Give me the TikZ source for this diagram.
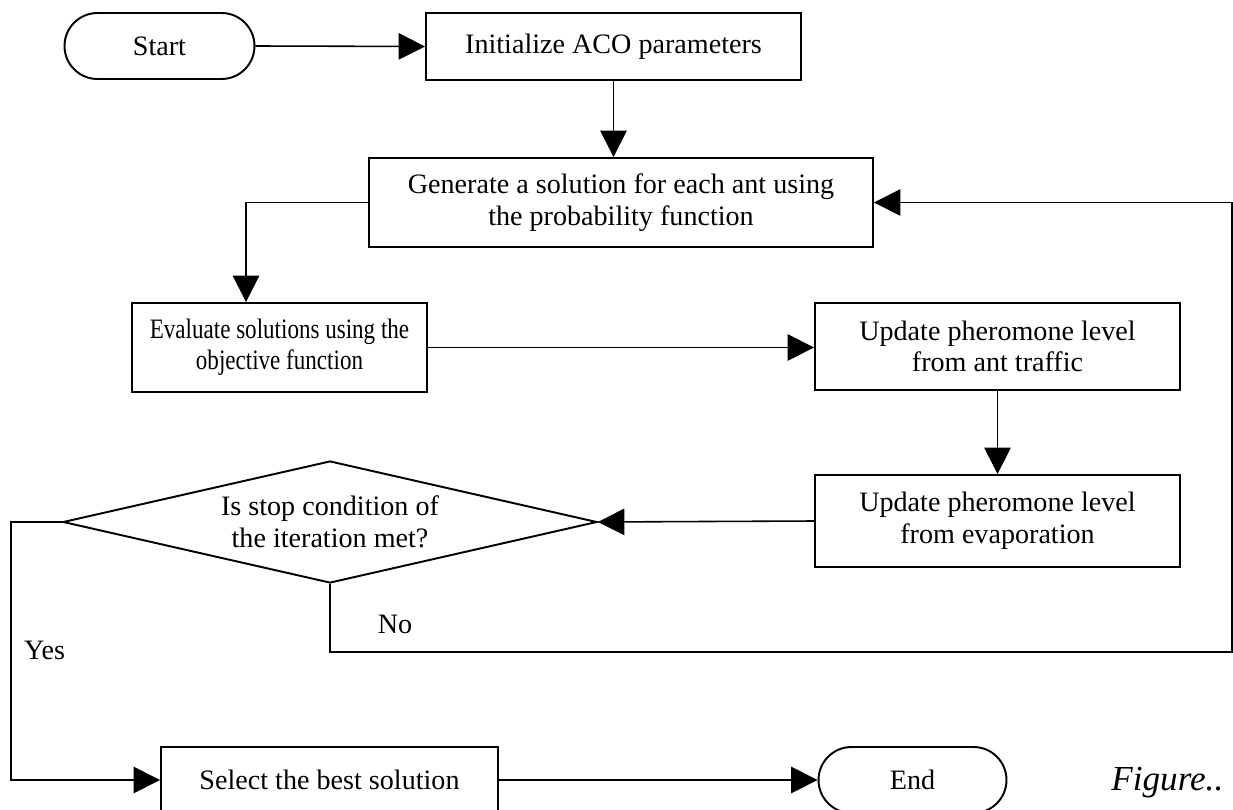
\documentclass[tikz,border=0pt]{standalone}
\usepackage{fontspec}
\setmainfont{Liberation Serif}
\usetikzlibrary{arrows.meta,shapes.geometric,shapes.misc}

\begin{document}
\begin{tikzpicture}[
    font=\fontsize{16}{18}\selectfont,
    box/.style={draw, line width=1.1pt, rectangle, align=center, inner sep=2pt},
    pill/.style={draw, line width=1.1pt, rounded rectangle, align=center, inner sep=2pt},
    flow/.style={line width=0.9pt, -{Triangle[length=15pt,width=15pt]}}
  ]
\useasboundingbox (0,0) rectangle (24.66,-16.2);

% Start and end
\node[pill, minimum width=3.94cm, minimum height=1.32cm] (start) at (3.19,-0.92) {Start};
\node[pill, minimum width=3.9cm, minimum height=1.32cm] (fin) at (18.25,-15.6) {End};

% Process boxes
\node[box, minimum width=7.5cm, minimum height=1.34cm] (init) at (12.27,-0.93) {Initialize ACO parameters};
\node[box, minimum width=10.08cm, minimum height=1.78cm] (gen) at (12.42,-4.05) {Generate a solution for each ant using\\the probability function};
\node[box, minimum width=5.9cm, minimum height=1.78cm] (eval) at (5.59,-6.95)
  {\scalebox{0.82}[1]{\begin{tabular}{@{}c@{}}Evaluate solutions using the\\objective function\end{tabular}}};
\node[box, minimum width=7.3cm, minimum height=1.74cm] (upd1) at (19.95,-6.93) {Update pheromone level\\from ant traffic};
\node[box, minimum width=7.3cm, minimum height=1.84cm] (upd2) at (19.95,-10.42) {Update pheromone level\\from evaporation};
\node[box, minimum width=6.74cm, minimum height=1.32cm] (best) at (6.59,-15.6) {Select the best solution};

% Decision
\node[draw, line width=1.1pt, diamond, aspect=4.4, inner sep=0pt, align=center,
      minimum width=10.68cm, minimum height=2.44cm] (cond) at (6.6,-10.44) {Is stop condition of\\the iteration met?};

% Bends
\coordinate (k1) at (4.92,-4.05);
\coordinate (yk) at (0.22,-10.44);
\coordinate (nk) at (24.64,-13.04);

% Main flow
\draw[flow] (start.east) -- (init.west);
\draw[flow] (init.south) -- (init.south |- gen.north);
\draw[flow] (gen.west) -| (k1 |- eval.north);
\draw[flow] (eval.east) -- (eval.east -| upd1.west);
\draw[flow] (upd1.south) -- (upd2.north);
\draw[flow] (upd2.west) -- (cond.east);

% Yes branch
\draw[flow] (cond.west) -- (yk) |- (best.west);
\node[anchor=west] (yes) at (0.36,-13.0) {Yes};
\draw[flow] (best.east) -- (fin.west);

% No branch back to the generation step
\draw[flow] (cond.south) |- (nk) |- (gen.east);
\node (no) at (7.9,-12.48) {No};

% Caption fragment
\node[anchor=base west, inner sep=0pt, font=\fontsize{20}{22}\selectfont\itshape] (cap) at (22.22,-15.8) {Figure..};

\end{tikzpicture}
\end{document}
